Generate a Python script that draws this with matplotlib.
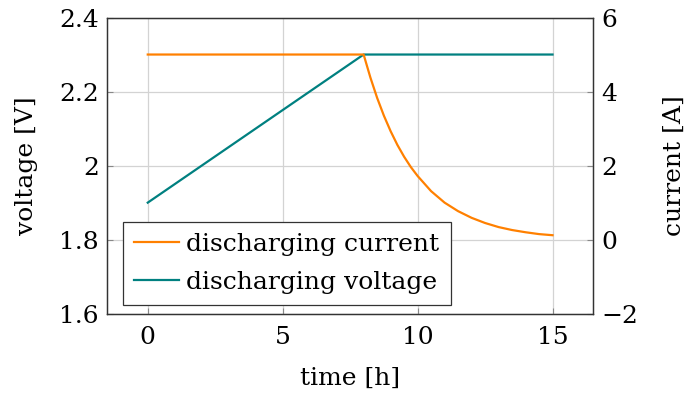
import matplotlib
matplotlib.use("Agg")
import matplotlib.pyplot as plt

# Data
volt_t = [0, 8, 15]
volt_v = [1.9, 2.3, 2.3]

curr_t = [0, 8, 8.25, 8.5, 8.75, 9, 9.25, 9.5, 9.75, 10, 10.5, 11, 11.5, 12, 12.5, 13, 13.5, 14, 14.5, 15]
curr_i = [5.0, 5.0, 4.38, 3.83, 3.35, 2.93, 2.56, 2.24, 1.96, 1.72, 1.31, 1.00, 0.77, 0.59, 0.45, 0.34, 0.26, 0.20, 0.15, 0.12]

x_ticks = [0, 5, 10, 15]
v_ticks = [1.6, 1.8, 2.0, 2.2, 2.4]
v_labels = ["1.6", "1.8", "2", "2.2", "2.4"]
i_ticks = [-2, 0, 2, 4, 6]
i_labels = ["\u22122", "0", "2", "4", "6"]

ORANGE = "#FF8000"
TEAL = "#008080"

plt.rcParams['font.family'] = ['DejaVu Serif']
FS = 18

fig = plt.figure(figsize=(6.85, 3.96), dpi=100)
ax = fig.add_axes([0.1566, 0.2078, 0.8657 - 0.1566, 0.9558 - 0.2078])
ax2 = ax.twinx()

lv, = ax.plot(volt_t, volt_v, color=TEAL, lw=1.6, label="discharging voltage", zorder=3)
li, = ax2.plot(curr_t, curr_i, color=ORANGE, lw=1.6, label="discharging current", zorder=3)

ax.set_xlim(-1.5, 16.5)
ax.set_ylim(1.6, 2.4)
ax2.set_ylim(-2, 6)

ax.set_xticks(x_ticks)
ax.set_xticklabels([str(v) for v in x_ticks])
ax.set_yticks(v_ticks)
ax.set_yticklabels(v_labels)
ax2.set_yticks(i_ticks)
ax2.set_yticklabels(i_labels)

ax.grid(True, color="#d3d3d3", lw=0.9)
ax.set_axisbelow(True)

for a in (ax, ax2):
    a.tick_params(direction="in", length=4, width=0.8, color="#888888", labelsize=FS, pad=6)
    for s in a.spines.values():
        s.set_color("#333333")
        s.set_linewidth(0.9)
ax.tick_params(axis="x", pad=9)

ax.set_xlabel("time [h]", fontsize=FS, labelpad=13)
ax.set_ylabel("voltage [V]", fontsize=FS, labelpad=15)
ax2.set_ylabel("current [A]", fontsize=FS, labelpad=18)

leg = ax2.legend(handles=[li, lv], loc="lower left", bbox_to_anchor=(0.0317, 0.029),
                 fontsize=FS, frameon=True, fancybox=False, framealpha=1,
                 edgecolor="#333333", borderpad=0.45, labelspacing=0.6,
                 handlelength=1.8, handletextpad=0.3, borderaxespad=0)
leg.get_frame().set_linewidth(0.9)

fig.savefig("out.png", dpi=100)
